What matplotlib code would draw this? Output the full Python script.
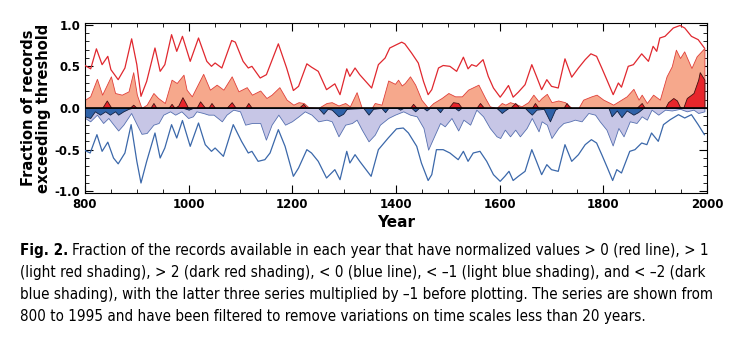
import matplotlib
matplotlib.use("Agg")
import matplotlib.pyplot as plt
from matplotlib import font_manager
from matplotlib.font_manager import FontProperties
from matplotlib.ticker import MultipleLocator, FormatStrFormatter

# fraction of records with normalized value > 0 (red line)
red_years = [800, 811, 822, 833, 844, 850, 864, 877, 890, 900, 908, 919, 935, 945, 954, 967, 977, 988,
             1003, 1019, 1035, 1044, 1051, 1064, 1083, 1090, 1105, 1115, 1122, 1138, 1150, 1173, 1189,
             1202, 1212, 1228, 1237, 1250, 1266, 1282, 1292, 1305, 1311, 1321, 1330, 1353, 1366, 1379,
             1388, 1401, 1411, 1417, 1430, 1443, 1453, 1462, 1469, 1482, 1491, 1504, 1517, 1530, 1539,
             1546, 1555, 1568, 1578, 1588, 1601, 1607, 1617, 1626, 1636, 1649, 1662, 1671, 1681, 1691,
             1700, 1713, 1726, 1739, 1752, 1765, 1776, 1787, 1797, 1806, 1819, 1829, 1835, 1848, 1858,
             1874, 1887, 1896, 1903, 1909, 1919, 1935, 1948, 1957, 1970, 1983, 1995]
red_vals = [.51, .47, .71, .52, .62, .46, .34, .48, .83, .52, .14, .32, .72, .44, .52, .88, .68, .86,
            .56, .84, .56, .50, .54, .48, .81, .79, .56, .48, .50, .36, .40, .77, .48,
            .21, .26, .53, .49, .44, .22, .29, .16, .47, .38, .48, .40, .24, .52, .60,
            .72, .76, .79, .77, .66, .54, .32, .16, .22, .48, .51, .50, .44, .61, .47,
            .52, .50, .58, .38, .24, .13, .18, .27, .13, .19, .28, .52, .38, .22, .34,
            .26, .24, .59, .37, .48, .58, .65, .62, .48, .35, .16, .30, .25, .50, .52,
            .65, .56, .74, .68, .84, .86, .96, .99, .96, .86, .82, .72]

# fraction < 0, multiplied by -1 (blue line)
blue_years = [800, 810, 823, 833, 844, 855, 864, 877, 889, 900, 908, 919, 935, 945, 954, 967, 977, 988,
              1003, 1019, 1032, 1044, 1051, 1067, 1086, 1102, 1115, 1122, 1134, 1147, 1157, 1173, 1186,
              1202, 1212, 1228, 1237, 1250, 1266, 1282, 1292, 1305, 1311, 1321, 1330, 1352, 1366, 1385,
              1401, 1414, 1424, 1440, 1449, 1462, 1469, 1478, 1491, 1504, 1520, 1530, 1539, 1549, 1562,
              1575, 1588, 1601, 1610, 1618, 1626, 1636, 1649, 1662, 1671, 1681, 1691, 1700, 1713, 1726,
              1739, 1752, 1765, 1777, 1787, 1797, 1808, 1818, 1826, 1835, 1851, 1861, 1874, 1884, 1893,
              1906, 1916, 1929, 1945, 1957, 1970, 1983, 1995]
blue_vals = [-.51, -.54, -.32, -.52, -.41, -.60, -.67, -.54, -.20, -.64, -.90, -.64, -.30, -.60, -.48, -.20, -.36, -.15,
             -.46, -.18, -.44, -.52, -.48, -.58, -.20, -.40, -.54, -.52, -.64, -.62, -.54, -.26, -.46,
             -.82, -.72, -.50, -.54, -.64, -.84, -.74, -.86, -.52, -.66, -.56, -.64, -.82, -.50, -.36,
             -.25, -.24, -.30, -.46, -.66, -.87, -.80, -.50, -.50, -.54, -.62, -.52, -.64, -.54, -.52,
             -.64, -.80, -.88, -.82, -.76, -.87, -.82, -.76, -.50, -.64, -.80, -.68, -.74, -.76, -.44,
             -.64, -.56, -.44, -.38, -.42, -.56, -.72, -.87, -.74, -.78, -.52, -.50, -.42, -.44, -.30,
             -.40, -.20, -.14, -.08, -.12, -.08, -.20, -.32]

# fraction > 1 (light red shading)
lred_years = [800, 810, 823, 833, 850, 858, 871, 884, 893, 900, 909, 919, 932, 941, 954, 967, 977, 990,
              996, 1006, 1028, 1041, 1054, 1067, 1083, 1096, 1112, 1122, 1138, 1150, 1160, 1175, 1189,
              1202, 1212, 1222, 1231, 1250, 1266, 1276, 1289, 1302, 1311, 1324, 1334, 1353, 1359, 1372,
              1385, 1398, 1404, 1411, 1417, 1427, 1437, 1449, 1462, 1472, 1488, 1501, 1514, 1527, 1539,
              1559, 1572, 1581, 1594, 1604, 1611, 1620, 1630, 1642, 1655, 1665, 1675, 1681, 1691, 1700,
              1713, 1726, 1739, 1752, 1761, 1777, 1787, 1800, 1813, 1819, 1832, 1845, 1858, 1868, 1874,
              1884, 1896, 1909, 1922, 1932, 1940, 1948, 1956, 1970, 1980, 1995]
lred_vals = [.10, .14, .35, .16, .38, .18, .16, .20, .43, .16, .0, .04, .18, .12, .06, .34, .30, .40,
             .22, .14, .41, .22, .28, .22, .38, .20, .25, .16, .21, .12, .16, .25, .10,
             .04, .07, .06, .01, .0, .06, .07, .03, .06, .02, .19, .0, .0, .06, .04,
             .33, .29, .34, .27, .30, .38, .28, .10, .0, .06, .12, .18, .14, .14, .22,
             .28, .12, .02, .0, .06, .04, .07, .05, .02, .07, .16, .08, .12, .17, .07,
             .09, .07, .0, .0, .10, .14, .16, .10, .06, .04, .09, .14, .23, .10, .16,
             .06, .16, .10, .38, .50, .70, .60, .68, .48, .62, .72]

# fraction > 2 (dark red shading)
dred_years = [800, 833, 842, 851, 886, 893, 900, 926, 932, 938, 961, 967, 973, 980, 988, 995, 999,
              1015, 1022, 1032, 1038, 1044, 1051, 1073, 1083, 1091, 1109, 1115, 1122, 1212, 1221, 1228,
              1427, 1433, 1440, 1501, 1510, 1520, 1527, 1555, 1562, 1570, 1620, 1630, 1639, 1662, 1668,
              1675, 1723, 1729, 1736, 1864, 1874, 1880, 1919, 1925, 1935, 1942, 1948, 1954, 1961, 1974,
              1983, 1986, 1995]
dred_vals = [0, 0, .09, 0, 0, .04, 0, 0, .06, 0, 0, .05, 0, .03, .13, .05, 0,
             0, .08, 0, 0, .06, 0, 0, .07, 0, 0, .06, 0, 0, .05, 0,
             0, .05, 0, 0, .07, .06, 0, 0, .06, 0, 0, .06, 0, 0, .06,
             0, 0, .06, 0, 0, .06, 0, 0, .07, .12, .09, .01, 0, .12, .18,
             .34, .43, .34]

# fraction < -1, multiplied by -1 (light blue shading)
lblue_years = [800, 810, 823, 835, 845, 855, 864, 874, 889, 900, 909, 919, 932, 942, 951, 964, 974, 986,
               999, 1008, 1015, 1028, 1038, 1048, 1064, 1073, 1086, 1099, 1109, 1122, 1138, 1149, 1160,
               1173, 1186, 1199, 1212, 1224, 1237, 1250, 1266, 1276, 1289, 1302, 1315, 1324, 1334, 1347,
               1359, 1369, 1385, 1398, 1414, 1427, 1440, 1453, 1462, 1472, 1485, 1494, 1507, 1520, 1530,
               1543, 1555, 1568, 1581, 1594, 1601, 1610, 1620, 1630, 1639, 1652, 1662, 1675, 1681, 1691,
               1700, 1713, 1723, 1736, 1745, 1758, 1771, 1784, 1793, 1806, 1818, 1829, 1839, 1851, 1864,
               1874, 1884, 1893, 1906, 1919, 1932, 1948, 1961, 1974, 1983, 1995]
lblue_vals = [-.12, -.16, -.08, -.18, -.12, -.20, -.27, -.20, -.06, -.20, -.31, -.30, -.20, -.18, -.08, -.04, -.08, -.04,
              -.12, -.10, -.04, -.06, -.08, -.08, -.16, -.08, -.02, -.04, -.20, -.18, -.18, -.38, -.20,
              -.08, -.20, -.16, -.10, -.04, -.08, -.16, -.14, -.16, -.34, -.20, -.18, -.14, -.26, -.40,
              -.32, -.20, -.12, -.08, -.04, -.08, -.10, -.24, -.50, -.36, -.18, -.22, -.12, -.27, -.14,
              -.20, -.02, -.10, -.24, -.34, -.36, -.26, -.34, -.26, -.34, -.24, -.12, -.28, -.16, -.20,
              -.36, -.24, -.18, -.16, -.14, -.16, -.06, -.08, -.16, -.26, -.45, -.24, -.34, -.16, -.18,
              -.10, -.14, -.02, -.08, -.02, -.03, -.01, -.04, -.02, -.06, -.04]

# fraction < -2, multiplied by -1 (dark blue shading)
dblue_years = [800, 810, 819, 829, 839, 848, 858, 864, 874, 884, 890, 990, 1000, 1008, 1250, 1260, 1268,
               1276, 1289, 1298, 1305, 1337, 1347, 1356, 1372, 1379, 1385, 1402, 1408, 1414, 1430, 1437,
               1444, 1453, 1459, 1465, 1478, 1485, 1491, 1514, 1520, 1526, 1594, 1601, 1604, 1610, 1617,
               1649, 1655, 1662, 1671, 1685, 1697, 1707, 1713, 1810, 1816, 1826, 1835, 1845, 1858, 1867,
               1877, 1995]
dblue_vals = [-.10, -.12, -.04, -.08, -.04, -.08, -.04, -.08, -.04, -.01, 0, 0, -.02, 0, 0, -.07, -.01,
              -.02, -.10, -.07, -.01, 0, -.08, -.01, 0, -.05, 0, 0, -.02, 0, 0, -.04,
              0, 0, -.03, 0, 0, -.05, 0, 0, -.03, 0, 0, -.04, -.06, -.03, 0,
              0, -.04, -.08, -.02, -.01, -.16, -.02, 0, 0, -.10, -.03, -.11, -.03, -.08, -.05,
              0, 0]

caption_head = "Fig. 2."
caption_lines = [
    "Fraction of the records available in each year that have normalized values > 0 (red line), > 1",
    "(light red shading), > 2 (dark red shading), < 0 (blue line), < \u20131 (light blue shading), and < \u20132 (dark",
    "blue shading), with the latter three series multiplied by \u20131 before plotting. The series are shown from",
    "800 to 1995 and have been filtered to remove variations on time scales less than 20 years.",
]

plt.rcParams["axes.unicode_minus"] = False

fig = plt.figure(figsize=(7.48, 3.40), dpi=100)
ax = fig.add_axes([85 / 748, 1 - 193 / 340, 622 / 748, 170 / 340])

ax.fill_between(lred_years, 0, lred_vals, facecolor="#f6a88c", edgecolor="#e0403a", linewidth=0.6, zorder=2)
ax.fill_between(lblue_years, 0, lblue_vals, facecolor="#c7c6e6", edgecolor="#5670b0", linewidth=0.6, zorder=2)
ax.fill_between(dred_years, 0, dred_vals, facecolor="#e8262c", edgecolor="#401010", linewidth=0.6, zorder=3)
ax.fill_between(dblue_years, 0, dblue_vals, facecolor="#2f62a8", edgecolor="#102040", linewidth=0.6, zorder=3)
ax.plot(red_years, red_vals, color="#e0282f", linewidth=0.9, zorder=4)
ax.plot(blue_years, blue_vals, color="#3b68aa", linewidth=0.9, zorder=4)
ax.axhline(0, color="black", linewidth=1.2, zorder=5)

ax.set_xlim(800, 2000)
ax.set_ylim(-1.02, 1.02)
ax.xaxis.set_major_locator(MultipleLocator(200))
ax.xaxis.set_minor_locator(MultipleLocator(50))
ax.yaxis.set_major_locator(MultipleLocator(0.5))
ax.yaxis.set_minor_locator(MultipleLocator(0.1))
ax.yaxis.set_major_formatter(FormatStrFormatter("%.1f"))
ax.tick_params(which="both", direction="in", top=True, right=True, labelsize=8.5)
ax.tick_params(which="major", length=6, width=0.8)
ax.tick_params(which="minor", length=3, width=0.6)
for lab in ax.get_xticklabels() + ax.get_yticklabels():
    lab.set_fontweight("bold")
for sp in ax.spines.values():
    sp.set_linewidth(0.8)

ax.set_xlabel("Year", fontsize=11, fontweight="bold", labelpad=3)
ax.set_ylabel("Fraction of records\nexceeding threshold", fontsize=10.5, fontweight="bold",
              linespacing=1.0, labelpad=2)

# caption: prefer a narrow face if one is installed
def find_face(keys, bold):
    for f in font_manager.fontManager.ttflist:
        name = f.fname.lower()
        if any(k in name for k in keys) and ("bold" in name) == bold and "oblique" not in name and "italic" not in name:
            return FontProperties(fname=f.fname)
    return FontProperties(family="DejaVu Sans", weight="bold" if bold else "normal")

keys = ["sansnarrow", "sans-narrow", "sanscondensed", "sans-condensed", "condensed"]
reg = find_face(keys, False)
bld = find_face(keys, True)

line_y = [250, 272, 294, 316]
size = 10.5
head = fig.text(20 / 748, 1 - line_y[0] / 340, caption_head, fontproperties=bld, fontsize=size,
                va="center", ha="left")
texts = []
for txt, y in zip(caption_lines, line_y):
    texts.append(fig.text(20 / 748, 1 - y / 340, txt, fontproperties=reg, fontsize=size,
                          va="center", ha="left"))

# size the caption so the widest line runs from x=20 to about x=721
fig.canvas.draw()
r = fig.canvas.get_renderer()
widths = [t.get_window_extent(r).width for t in texts]
widths[0] += head.get_window_extent(r).width + 4
size *= 701 / max(widths)
head.set_fontsize(size)
for t in texts:
    t.set_fontsize(size)
fig.canvas.draw()
bb = head.get_window_extent(r)
texts[0].set_x((bb.x1 + 4) / 748)

fig.savefig("out.png", dpi=100)
